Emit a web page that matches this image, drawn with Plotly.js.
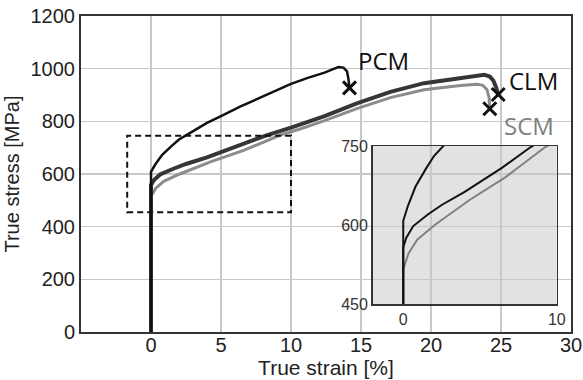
<!DOCTYPE html>
<html>
<head>
<meta charset="utf-8">
<script src="https://cdn.plot.ly/plotly-3.0.1.min.js"></script>
<style>
  html, body { margin: 0; padding: 0; background: #fff; }
  #chart { width: 583px; height: 380px; }
</style>
</head>
<body>
<div id="chart"></div>
<script>
// ---- data (true strain in %, true stress in MPa) ----
const strainPCM = [0, 0, 0.3, 0.8, 1.5, 2.0, 2.8, 4.0, 5.0, 6.4, 7.6, 8.8, 10.0, 11.2, 12.4, 13.0, 13.4, 13.75, 14.0, 14.1, 14.18];
const stressPCM = [0, 608, 636, 673, 708, 731, 756, 794, 820, 857, 885, 914, 942, 965, 985, 998, 1006, 1004, 990, 962, 927];

const strainCLM = [0, 0, 0.2, 0.65, 1.6, 2.5, 4.0, 5.0, 6.4, 8.3, 10.0, 12.4, 14.7, 17.1, 19.5, 20.7, 22.1, 23.3, 23.8, 24.2, 24.45, 24.65, 24.8];
const stressCLM = [0, 558, 576, 598, 620, 638, 663, 682, 708, 748, 776, 820, 868, 912, 945, 955, 966, 974, 977, 970, 955, 930, 902];

const strainSCM = [0, 0, 0.34, 0.91, 2.05, 4.34, 6.62, 9.25, 10.7, 12.35, 14.7, 17.1, 19.5, 20.7, 22.1, 23.3, 23.7, 24.0, 24.15, 24.2];
const stressSCM = [0, 516, 546, 572, 600, 648, 690, 748, 772, 802, 848, 890, 920, 928, 936, 941, 937, 920, 890, 848];

const fractureStrain = [14.18, 24.8, 24.2];
const fractureStress = [927, 902, 848];

const seriesNames = ["PCM", "CLM", "SCM"];
const xTicks = [0, 5, 10, 15, 20, 25, 30];
const yTicks = [0, 200, 400, 600, 800, 1000, 1200];
const insetXTicks = [0, 10];
const insetYTicks = [450, 600, 750];
const zoomBox = { x0: -1.7, x1: 10, y0: 455, y1: 745 };

const xRange = [-5, 30];
const yRange = [0, 1200];
const tickFont = { family: "Liberation Sans, Arial, sans-serif", size: 20, color: "#222" };
const insetDomX = [0.595, 0.971];
const insetDomY = [0.0886, 0.5886];
// inset frame expressed in the main axes' coordinates (main axes span the whole plot area)
const toMainX = (f) => xRange[0] + (xRange[1] - xRange[0]) * f;
const toMainY = (f) => yRange[0] + (yRange[1] - yRange[0]) * f;

const traces = [
  // main plot
  { x: strainSCM, y: stressSCM, mode: "lines", line: { color: "#8c8c8c", width: 3 }, xaxis: "x", yaxis: "y", name: seriesNames[2] },
  { x: strainCLM, y: stressCLM, mode: "lines", line: { color: "#363636", width: 4 }, xaxis: "x", yaxis: "y", name: seriesNames[1] },
  { x: strainPCM, y: stressPCM, mode: "lines", line: { color: "#111111", width: 2.5 }, xaxis: "x", yaxis: "y", name: seriesNames[0] },
  { x: fractureStrain, y: fractureStress, mode: "markers", xaxis: "x", yaxis: "y",
    marker: { symbol: "x-thin", size: 13, color: "#111", line: { color: "#111", width: 3 } } },
  // inset
  { x: strainSCM, y: stressSCM, mode: "lines", line: { color: "#808080", width: 2 }, xaxis: "x2", yaxis: "y2" },
  { x: strainCLM, y: stressCLM, mode: "lines", line: { color: "#111111", width: 2 }, xaxis: "x2", yaxis: "y2" },
  { x: strainPCM, y: stressPCM, mode: "lines", line: { color: "#111111", width: 2 }, xaxis: "x2", yaxis: "y2" }
];

const labelFont = (c) => ({ family: "Open Sans, Noto Sans, sans-serif", size: 24, color: c });

const layout = {
  width: 583, height: 380,
  margin: { l: 81, r: 12, t: 16, b: 48 },
  showlegend: false,
  paper_bgcolor: "#fff",
  plot_bgcolor: "rgba(0,0,0,0)",
  xaxis: {
    domain: [0, 1], range: xRange, tickvals: xTicks, ticks: "",
    showgrid: true, gridcolor: "#c8c8c8", gridwidth: 1.5, zeroline: false,
    showline: true, mirror: true, linecolor: "#333", linewidth: 2,
    tickfont: tickFont, ticklabelstandoff: -6,
    title: { text: "True strain [%]", font: { family: tickFont.family, size: 21, color: "#222" }, standoff: 0 },
    anchor: "y"
  },
  yaxis: {
    domain: [0, 1], range: yRange, tickvals: yTicks, ticks: "",
    showgrid: true, gridcolor: "#c8c8c8", gridwidth: 1.5, zeroline: false,
    showline: true, mirror: true, linecolor: "#333", linewidth: 2,
    tickfont: tickFont,
    title: { text: "True stress [MPa]", font: tickFont, standoff: 6 },
    anchor: "x"
  },
  xaxis2: {
    domain: insetDomX, range: [-2, 10], tickvals: insetXTicks, ticks: "",
    showgrid: false, zeroline: false,
    showline: true, mirror: true, linecolor: "#333", linewidth: 1.5,
    tickfont: { family: "Liberation Sans, Arial, sans-serif", size: 16, color: "#333" },
    anchor: "y2"
  },
  yaxis2: {
    domain: insetDomY, range: [450, 750], tickvals: insetYTicks, ticks: "",
    showgrid: false, zeroline: false,
    showline: true, mirror: true, linecolor: "#333", linewidth: 1.5,
    tickfont: { family: "Liberation Sans, Arial, sans-serif", size: 16, color: "#333" },
    anchor: "x2"
  },
  shapes: [
    { type: "rect", xref: "x", yref: "y",
      x0: toMainX(insetDomX[0]), x1: toMainX(insetDomX[1]), y0: toMainY(insetDomY[0]), y1: toMainY(insetDomY[1]),
      fillcolor: "#e2e2e2", line: { width: 0 }, layer: "below" },
    { type: "rect", xref: "x", yref: "y", x0: zoomBox.x0, x1: zoomBox.x1, y0: zoomBox.y0, y1: zoomBox.y1,
      line: { color: "#111", width: 2, dash: "6px,4px" }, fillcolor: "rgba(0,0,0,0)" }
  ],
  annotations: [
    { x: 16.6, y: 1030, xref: "x", yref: "y", text: seriesNames[0], showarrow: false, font: labelFont("#111") },
    { x: 27.3, y: 955, xref: "x", yref: "y", text: seriesNames[1], showarrow: false, font: labelFont("#111") },
    { x: 27.0, y: 785, xref: "x", yref: "y", text: seriesNames[2], showarrow: false, font: labelFont("#808080") }
  ]
};

Plotly.newPlot("chart", traces, layout, { staticPlot: true, displayModeBar: false });
</script>
</body>
</html>
